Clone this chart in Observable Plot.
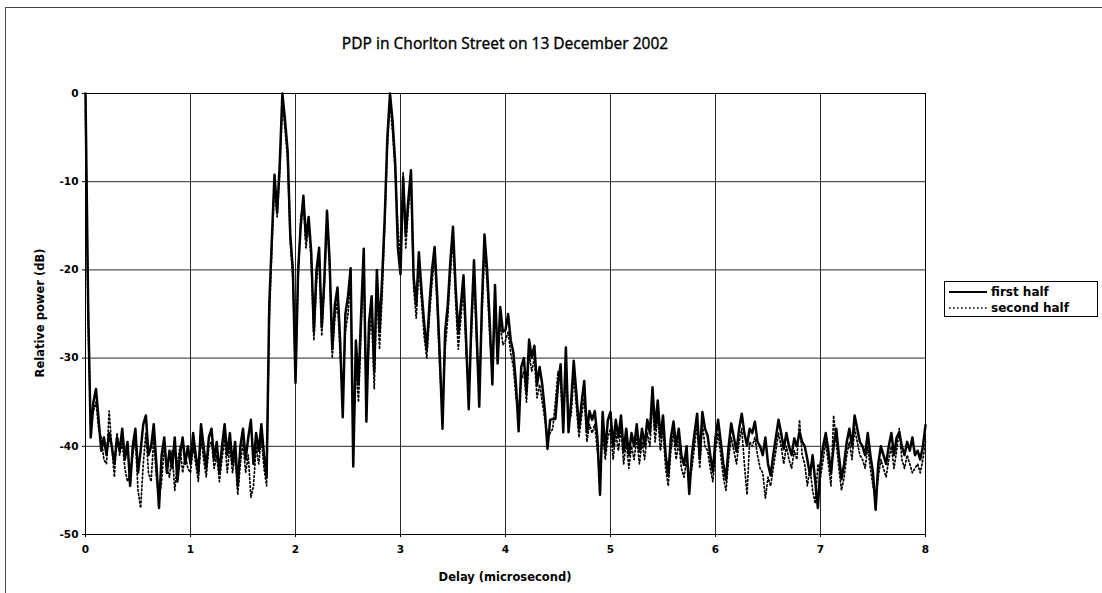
<!DOCTYPE html>
<html>
<head>
<meta charset="utf-8">
<script src="https://cdn.jsdelivr.net/npm/d3@7"></script>
<script src="https://cdn.jsdelivr.net/npm/@observablehq/plot@0.6"></script>
<style>
  html, body { margin: 0; padding: 0; background: #fff; }
  #wrap { position: relative; width: 1102px; height: 593px; overflow: hidden; }
  #border { position: absolute; left: 5px; top: 7px; right: -2px; bottom: -2px; border-left: 1px solid #444; border-top: 1px solid #444; }
  #title { position: absolute; left: 0; width: 1010px; top: 32px; text-align: center; font-family: "Noto Sans", "DejaVu Sans", sans-serif; font-size: 15.5px; color: #000; -webkit-text-stroke: 0.3px #000; }
  #ylab { position: absolute; left: 40px; top: 313px; transform: translate(-50%, -50%) rotate(-90deg); white-space: nowrap; font-family: "DejaVu Sans", sans-serif; font-weight: bold; font-size: 11.5px; }
  #xlab { position: absolute; left: 0; width: 1010px; top: 570px; text-align: center; font-family: "DejaVu Sans", sans-serif; font-weight: bold; font-size: 11.5px; }
  #legend { position: absolute; left: 944px; top: 281px; width: 154px; height: 36px; border: 1px solid #000; box-sizing: border-box; background: #fff; font-family: "DejaVu Sans", sans-serif; font-weight: bold; font-size: 12px; }
  .row { position: absolute; left: 3px; height: 15px; display: flex; align-items: center; }
  .row svg { margin-right: 3px; }
  #plot { position: absolute; left: 0; top: 0; }
</style>
</head>
<body>
<div id="wrap">
  <div id="border"></div>
  <div id="plot"></div>
  <div id="title"></div>
  <div id="ylab"></div>
  <div id="xlab"></div>
  <div id="legend"></div>
</div>
<script>
const titleText = "PDP in Chorlton Street on 13 December 2002";
const xLabel = "Delay (microsecond)";
const yLabel = "Relative power (dB)";
const seriesNames = ["first half", "second half"];
const xTicks = [0, 1, 2, 3, 4, 5, 6, 7, 8];
const yTicks = [0, -10, -20, -30, -40, -50];
const delayStep = 0.025; // microseconds between samples

// Relative power (dB), first half, sampled every 0.025 µs from 0 to 8
const firstHalf = [
  0, -24, -39, -35, -33.5, -37, -40.5, -39, -41, -38.5,
  -40, -42, -39, -40.5, -38, -41.5, -39.5, -44.5, -40, -38,
  -43, -40.5, -37.5, -36.5, -41, -40, -37.5, -42, -47, -41,
  -39, -43, -40.5, -42.5, -39, -44, -41, -39, -42, -40,
  -42, -38.5, -41, -43, -37.5, -40, -42.5, -39, -38, -41.5,
  -39.5, -43, -40, -37.5, -41, -38.5, -42, -39.5, -44.5, -40,
  -38, -41.5, -39, -37, -42, -38.5, -40.5, -37.5, -41, -43.5,
  -24, -16.5, -9.2, -13.5, -8, 0, -3, -6.5, -16, -20,
  -32.8, -20, -15, -11.6, -16.5, -14, -18, -27, -20, -17.5,
  -26.5, -21, -13.3, -19, -29, -24, -22, -28, -36.7, -25,
  -23, -19.8, -42.3, -28, -33, -25, -17.6, -37.2, -26, -23,
  -31.5, -20, -27, -21, -14, -5, 0, -3.2, -8, -17.5,
  -20.5, -9.5, -16, -12, -8.7, -20.8, -24, -18, -22.3, -26,
  -29, -24, -20, -17.4, -23, -30, -38, -27, -24, -19,
  -15.1, -22, -27.2, -24, -20.6, -28, -35.8, -26, -18.9, -27,
  -35.5, -24, -16, -20, -26, -33, -21.7, -30.6, -24.2, -27,
  -26.8, -25, -28, -29.4, -33, -38.3, -31, -30, -33.9, -27.9,
  -30, -28.6, -33.1, -31, -33, -36, -40.3, -37, -36.9, -36.9,
  -33, -30.7, -38.4, -28.8, -38.4, -35, -30.3, -34, -38, -35,
  -32.6, -38.4, -36, -37, -36, -39, -45.5, -36.1, -40.6, -37,
  -36.1, -40, -37, -39, -36.5, -40.6, -38, -41, -38.5, -40,
  -37.5, -40.6, -38, -40, -37, -38.5, -33.3, -38, -34.8, -39,
  -36.5, -41, -43.3, -39, -37.2, -40, -38, -41, -42.1, -40,
  -45.4, -41, -38.5, -36.3, -41.4, -36.1, -38, -38.8, -41, -42.9,
  -39, -37, -39.5, -42, -43.8, -40, -37.4, -39, -40.6, -38,
  -36.3, -38.5, -39.9, -38, -38.5, -37.2, -39.5, -40, -41, -39,
  -42, -43.3, -41, -39, -37, -38.5, -40.3, -38.5, -40, -41,
  -39.1, -40, -38.4, -39.5, -40, -41.5, -43.3, -41, -44, -47,
  -42, -40, -38.5, -40.5, -43, -40, -38, -41, -43.7, -42,
  -39.5, -38, -40, -36.5, -38, -39.5, -40, -41, -38.5, -41,
  -43, -47.2, -42, -40, -41, -42, -40, -38.5, -41, -39,
  -38.4, -40, -41, -39.5, -40.5, -39, -41, -40.5, -41.5, -40,
  -37.6
];

// Relative power (dB), second half, same sampling
const secondHalf = [
  -2, -26, -38, -36, -35, -38, -39, -41.5, -42, -36,
  -40, -43.5, -38.5, -41, -39.5, -42.5, -44, -43, -41, -39,
  -45, -47, -42, -38.5, -43, -44, -39, -43.5, -46, -44,
  -40, -42.5, -43.5, -40.5, -45, -42, -40, -43, -41, -42.5,
  -43, -40, -42, -44, -39, -41.5, -43.5, -40, -39.5, -42.5,
  -41, -44, -41.5, -39, -43, -40, -43, -41, -45.5, -42,
  -39.5, -43, -41, -45.8, -44.5, -40, -42, -39, -42.5, -44.5,
  -26, -17.5, -10, -14, -9, -1, -4, -7.5, -17, -21,
  -32, -21, -14, -12.5, -17.5, -15, -19, -28, -21.5, -18,
  -27.5, -22, -14, -20, -30, -25.5, -23.5, -29.5, -34, -27,
  -25, -21, -40, -31, -35, -27, -18.5, -34, -28, -25,
  -33.5, -22, -29, -23, -15, -6, -1, -4.5, -9, -15,
  -19, -9, -17.5, -13, -10, -22, -25.5, -19.5, -23.5, -27.5,
  -30, -25.5, -21.5, -18.5, -24.5, -31.5, -36, -29, -25.5, -20.5,
  -16.5, -23.5, -29, -25.5, -22, -29.5, -33, -27.5, -20.5, -28.5,
  -33.5, -25.5, -17.5, -21.5, -27.5, -31.5, -23, -29.5, -26, -28.5,
  -28, -27, -29.5, -31, -34.5, -36, -32.5, -31.5, -35, -29.5,
  -31.5, -30, -34.5, -33, -35, -37, -39, -38.5, -38, -35,
  -31.5, -33, -37.5, -30.5, -37, -36.5, -32, -35.5, -39, -36.5,
  -34.5, -39.5, -37.5, -38.5, -37.5, -40.5, -43, -38, -41.5, -39,
  -38, -41.5, -38.5, -40.5, -38, -42, -39.5, -42.5, -40, -41.5,
  -39, -42, -39.5, -41.5, -38.5, -40, -35, -39.5, -36.5, -40.5,
  -38, -42.5, -44.5, -40.5, -38.5, -41.5, -39.5, -42.5, -43.5, -41.5,
  -44, -42.5, -40, -37.5, -42.5, -37.5, -40, -40.5, -42.5, -44,
  -40.5, -38.5, -41, -43.5, -45, -41.5, -39, -40.5, -42, -39.5,
  -38, -42, -45.5, -39.5, -40, -39, -41, -42.5, -43, -45.9,
  -43.5, -44.5, -42.5, -40.5, -38.5, -40, -42, -40, -41.5, -42.5,
  -40.5, -41.5, -37, -41, -42, -44.5, -42.5, -45, -46.5, -42,
  -43.5, -41.5, -39.5, -42, -44.5, -36.5, -39.5, -42.5, -45, -43.5,
  -41, -39.5, -41.5, -38, -39.5, -41, -41.5, -42.5, -40, -42.5,
  -44.5, -46, -43.5, -41.5, -42.5, -43.5, -41.5, -40, -42.5, -40.5,
  -38, -41.5, -42.5, -41, -42, -43, -42.5, -42, -43, -41.5,
  -39.5
];

const toRows = (arr, name) => arr.map((v, i) => ({delay: +(i * delayStep).toFixed(3), power: v, series: name}));
const rowsFirst = toRows(firstHalf, seriesNames[0]);
const rowsSecond = toRows(secondHalf, seriesNames[1]);

const fontTicks = "'DejaVu Sans', sans-serif";

const chart = Plot.plot({
  width: 1102,
  height: 593,
  marginLeft: 85,
  marginRight: 177,
  marginTop: 93,
  marginBottom: 59,
  style: {fontFamily: fontTicks, fontSize: "10.5px", fontWeight: "bold", color: "#000", background: "transparent"},
  x: {domain: [0, 8], label: null},
  y: {domain: [-50, 0], label: null},
  marks: [
    Plot.gridX(xTicks, {stroke: "#000", strokeOpacity: 0.85, strokeWidth: 1}),
    Plot.gridY(yTicks, {stroke: "#000", strokeOpacity: 0.85, strokeWidth: 1}),
    Plot.frame({stroke: "#000", strokeWidth: 1}),
    Plot.axisX({ticks: xTicks, tickFormat: d => String(d), tickSize: 3, tickPadding: 8, label: null}),
    Plot.axisY({ticks: yTicks, tickFormat: d => String(d), tickSize: 3, tickPadding: 4, label: null}),
    Plot.line(rowsSecond, {x: "delay", y: "power", stroke: "#000", strokeWidth: 1.7, strokeDasharray: "1.6,2.4", strokeLinejoin: "round"}),
    Plot.line(rowsFirst, {x: "delay", y: "power", stroke: "#000", strokeWidth: 2.5, strokeLinejoin: "round"})
  ]
});
document.getElementById("plot").appendChild(chart);

document.getElementById("title").textContent = titleText;
document.getElementById("ylab").textContent = yLabel;
document.getElementById("xlab").textContent = xLabel;

// legend
const legend = d3.select("#legend");
const dashes = [null, "1.6,2.4"];
const widths = [2, 1.4];
seriesNames.forEach((name, i) => {
  const row = legend.append("div").attr("class", "row").style("top", (2 + i * 16) + "px");
  const s = row.append("svg").attr("width", 40).attr("height", 10);
  s.append("line").attr("x1", 1).attr("x2", 39).attr("y1", 5).attr("y2", 5)
    .attr("stroke", "#000").attr("stroke-width", widths[i])
    .attr("stroke-dasharray", dashes[i]);
  row.append("span").text(name);
});
</script>
</body>
</html>
